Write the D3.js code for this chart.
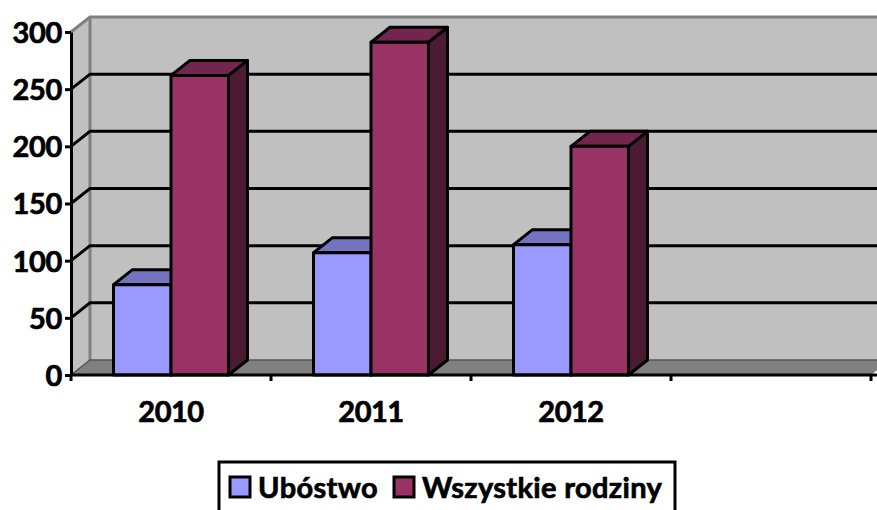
<!DOCTYPE html>
<html>
<head>
<meta charset="utf-8">
<script src="https://cdn.jsdelivr.net/npm/d3@7"></script>
<style>
  html, body { margin: 0; padding: 0; background: #fff; overflow: hidden; }
  svg { display: block; }
  text { font-family: Lato, "Open Sans", sans-serif; font-weight: 700; fill: #000; stroke: #000; stroke-width: 0.7; }
  .axis .domain { stroke: #000; stroke-width: 3; }
  .axis .tick line { stroke: #000; stroke-width: 3; }
</style>
</head>
<body>
<svg id="chart" width="877" height="510"></svg>
<script>
// values
const categories = ['2010', '2011', '2012', ' '];
const seriesNames = ['Ubóstwo', 'Wszystkie rodziny'];
const ubostwo = [79, 107, 114, null];
const wszystkie = [262, 291, 200, null];
const yTicks = [0, 50, 100, 150, 200, 250, 300];

const colors = {
  'Ubóstwo': {front: '#9999ff', top: '#7373bf', side: '#4d4d80'},
  'Wszystkie rodziny': {front: '#993366', top: '#73264d', side: '#4d1a33'}
};

const width = 877, height = 510;
const plot = {left: 71, right: 871, top: 32, bottom: 375};
const depth = {x: 19, y: -15};

const svg = d3.select('#chart').attr('width', width).attr('height', height);

const yScale = d3.scaleLinear().domain([0, 300]).range([plot.bottom, plot.top]);
const xScale = d3.scaleBand().domain(categories).range([plot.left, plot.right]);
const xInner = d3.scaleBand().domain(seriesNames)
  .range([0, xScale.bandwidth()]).paddingInner(0).paddingOuter(0.74);

const poly = pts => pts.map(p => p.join(',')).join(' ');

// walls and floor
const walls = svg.append('g');
walls.append('polygon')
  .attr('points', poly([
    [plot.left, plot.top],
    [plot.left + depth.x, plot.top + depth.y],
    [plot.left + depth.x, plot.bottom + depth.y],
    [plot.left, plot.bottom]]))
  .attr('fill', '#c0c0c0');
walls.append('rect')
  .attr('x', plot.left + depth.x)
  .attr('y', plot.top + depth.y)
  .attr('width', plot.right - plot.left)
  .attr('height', plot.bottom - plot.top)
  .attr('fill', '#c0c0c0');
walls.append('polygon')
  .attr('points', poly([
    [plot.left, plot.bottom],
    [plot.left + depth.x, plot.bottom + depth.y],
    [plot.right + depth.x, plot.bottom + depth.y],
    [plot.right, plot.bottom]]))
  .attr('fill', '#808080');

// wall edges
walls.append('path')
  .attr('d', `M${plot.left},${plot.top}L${plot.left + depth.x},${plot.top + depth.y}L${plot.right + depth.x},${plot.top + depth.y}`)
  .attr('fill', 'none').attr('stroke', '#808080').attr('stroke-width', 3);
walls.append('line')
  .attr('x1', plot.left + depth.x).attr('x2', plot.left + depth.x)
  .attr('y1', plot.top + depth.y).attr('y2', plot.bottom + depth.y)
  .attr('stroke', '#808080').attr('stroke-width', 3);
walls.append('path')
  .attr('d', `M${plot.left},${plot.bottom}L${plot.left + depth.x},${plot.bottom + depth.y}L${plot.right + depth.x},${plot.bottom + depth.y}`)
  .attr('fill', 'none').attr('stroke', '#555').attr('stroke-width', 1.5);

// gridlines: diagonal on the side wall, then across the back wall
svg.append('g').selectAll('path')
  .data(yTicks.filter(d => d > 0 && d < 300))
  .join('path')
    .attr('d', d => `M${plot.left},${yScale(d)}L${plot.left + depth.x},${yScale(d) + depth.y}L${plot.right + depth.x},${yScale(d) + depth.y}`)
    .attr('fill', 'none')
    .attr('stroke', '#000')
    .attr('stroke-width', 3);

// 3d bars
const rows = categories.map((c, i) => ({category: c, values: [ubostwo[i], wszystkie[i]]}))
  .filter(r => r.values[0] !== null);

const groups = svg.append('g').selectAll('g')
  .data(rows)
  .join('g')
    .attr('transform', d => `translate(${xScale(d.category)},0)`);

const bars = groups.selectAll('g')
  .data(d => seriesNames.map((s, i) => ({series: s, value: d.values[i]})))
  .join('g')
    .attr('stroke', '#000')
    .attr('stroke-width', 3)
    .attr('stroke-linejoin', 'round');

bars.append('polygon')
  .attr('fill', d => colors[d.series].side)
  .attr('points', d => {
    const x = xInner(d.series) + xInner.bandwidth(), t = yScale(d.value);
    return poly([[x, t], [x + depth.x, t + depth.y], [x + depth.x, plot.bottom + depth.y], [x, plot.bottom]]);
  });
bars.append('polygon')
  .attr('fill', d => colors[d.series].top)
  .attr('points', d => {
    const x = xInner(d.series), w = xInner.bandwidth(), t = yScale(d.value);
    return poly([[x, t], [x + depth.x, t + depth.y], [x + w + depth.x, t + depth.y], [x + w, t]]);
  });
bars.append('rect')
  .attr('fill', d => colors[d.series].front)
  .attr('x', d => xInner(d.series))
  .attr('y', d => yScale(d.value))
  .attr('width', xInner.bandwidth())
  .attr('height', d => plot.bottom - yScale(d.value));

// axes
const yAxisG = svg.append('g')
  .attr('class', 'axis')
  .attr('transform', `translate(${plot.left},0)`)
  .call(d3.axisLeft(yScale).tickValues(yTicks).tickSize(6).tickSizeOuter(0).tickPadding(3));
yAxisG.selectAll('text').style('font-size', '29px').style('letter-spacing', '-0.3px').attr('dy', '0.36em');

const xAxisG = svg.append('g')
  .attr('class', 'axis')
  .attr('transform', `translate(0,${plot.bottom})`)
  .call(d3.axisBottom(xScale).tickSize(0).tickSizeOuter(0).tickPadding(26));
xAxisG.selectAll('text').style('font-size', '29px').style('letter-spacing', '-0.5px');
xAxisG.select('.domain').attr('d', `M${plot.left},0H${width}`);
xAxisG.selectAll('.sep')
  .data(categories.map(c => xScale(c)).concat(plot.right))
  .join('line')
    .attr('class', 'sep')
    .attr('x1', d => d).attr('x2', d => d)
    .attr('y1', 0).attr('y2', 6)
    .attr('stroke', '#000').attr('stroke-width', 3);

// legend
const legend = svg.append('g');
legend.append('rect')
  .attr('x', 219).attr('y', 462)
  .attr('width', 456).attr('height', 60)
  .attr('fill', '#fff').attr('stroke', '#000').attr('stroke-width', 3);

const legendItems = legend.selectAll('g')
  .data(seriesNames)
  .join('g')
    .attr('transform', (d, i) => `translate(${[230, 394][i]},477)`);
legendItems.append('rect')
  .attr('width', 20).attr('height', 20)
  .attr('fill', d => colors[d].front)
  .attr('stroke', '#000').attr('stroke-width', 3);
legendItems.append('text')
  .attr('x', 28)
  .attr('y', 21)
  .style('font-size', '29px')
  .style('letter-spacing', '0.35px')
  .text(d => d);
</script>
</body>
</html>
